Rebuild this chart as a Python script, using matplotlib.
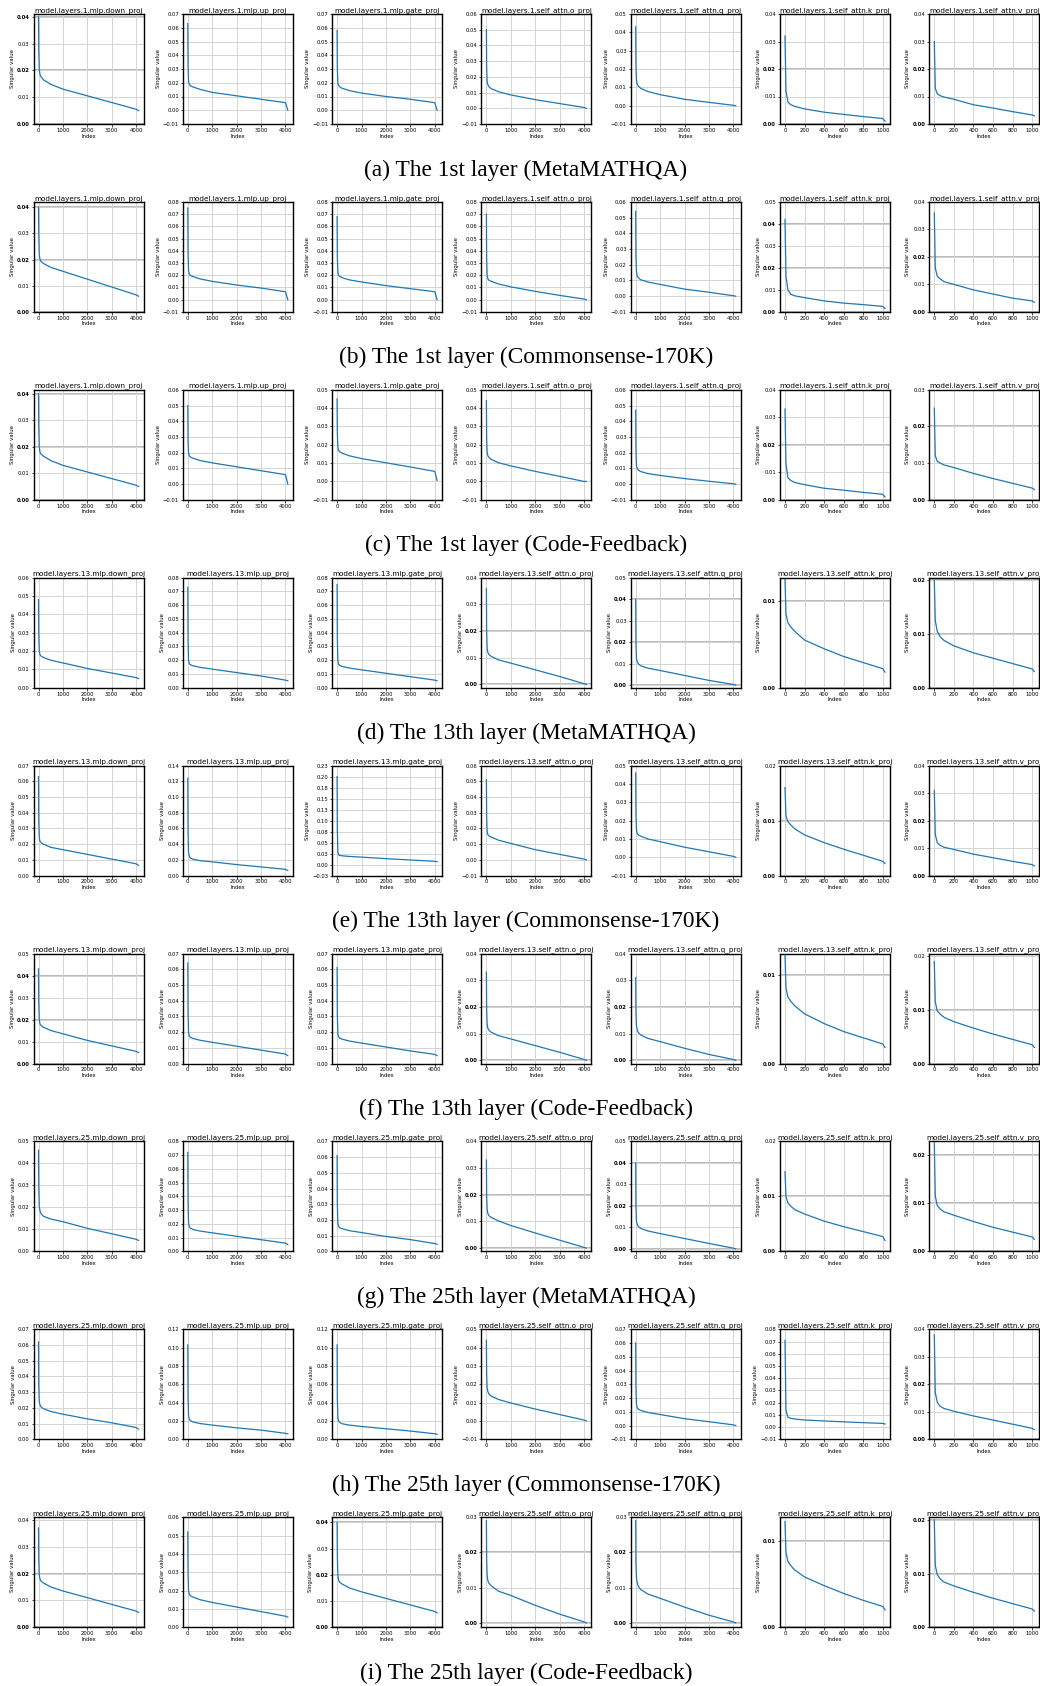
import math
import matplotlib
matplotlib.use('Agg')
import matplotlib.pyplot as plt

W, H = 1040, 1686

modules = ['mlp.down_proj', 'mlp.up_proj', 'mlp.gate_proj', 'self_attn.o_proj',
           'self_attn.q_proj', 'self_attn.k_proj', 'self_attn.v_proj']
row_layers = [1, 1, 1, 13, 13, 13, 25, 25, 25]
captions = ['(a) The 1st layer (MetaMATHQA)', '(b) The 1st layer (Commonsense-170K)',
            '(c) The 1st layer (Code-Feedback)', '(d) The 13th layer (MetaMATHQA)',
            '(e) The 13th layer (Commonsense-170K)', '(f) The 13th layer (Code-Feedback)',
            '(g) The 25th layer (MetaMATHQA)', '(h) The 25th layer (Commonsense-170K)',
            '(i) The 25th layer (Code-Feedback)']

# index positions where the curves were read (first 5 modules: 4096 values, k/v: 1024)
x_big = [0, 10, 30, 60, 100, 200, 500, 1000, 2000, 3000, 4000, 4095]
x_small = [0, 10, 30, 60, 100, 200, 400, 600, 800, 1000, 1023]

# singular values, one list per module
vals_a = [[0.040, 0.028, 0.0205, 0.0185, 0.0177, 0.0165, 0.0148, 0.013, 0.0105, 0.008, 0.0055, 0.005],
          [0.063, 0.032, 0.021, 0.019, 0.018, 0.017, 0.0152, 0.013, 0.0105, 0.008, 0.0055, 0.0],
          [0.058, 0.030, 0.020, 0.018, 0.0172, 0.016, 0.0143, 0.0125, 0.010, 0.008, 0.0055, 0.0],
          [0.050, 0.026, 0.017, 0.015, 0.0138, 0.0125, 0.0105, 0.0085, 0.0055, 0.003, 0.0005, 0.0],
          [0.043, 0.022, 0.014, 0.012, 0.0108, 0.0095, 0.0077, 0.006, 0.0035, 0.0018, 0.0002, 0.0],
          [0.032, 0.012, 0.008, 0.007, 0.0064, 0.0055, 0.0043, 0.0035, 0.0027, 0.002, 0.001],
          [0.030, 0.013, 0.011, 0.0103, 0.0098, 0.009, 0.007, 0.0058, 0.0045, 0.0033, 0.003]]
vals_b = [[0.040, 0.030, 0.022, 0.020, 0.0193, 0.0185, 0.017, 0.0155, 0.0125, 0.0095, 0.0065, 0.006],
          [0.075, 0.038, 0.024, 0.021, 0.020, 0.019, 0.017, 0.015, 0.012, 0.0095, 0.0065, 0.0],
          [0.068, 0.035, 0.023, 0.020, 0.019, 0.018, 0.0162, 0.0145, 0.0115, 0.009, 0.0065, 0.0],
          [0.070, 0.034, 0.020, 0.017, 0.016, 0.015, 0.0128, 0.0105, 0.0068, 0.0035, 0.0005, 0.0],
          [0.054, 0.026, 0.016, 0.013, 0.0118, 0.0105, 0.009, 0.0075, 0.0045, 0.0025, 0.0003, 0.0],
          [0.042, 0.016, 0.010, 0.008, 0.0073, 0.0065, 0.005, 0.004, 0.0033, 0.0025, 0.0015],
          [0.036, 0.016, 0.013, 0.012, 0.011, 0.010, 0.008, 0.0065, 0.005, 0.004, 0.0035]]
vals_c = [[0.040, 0.028, 0.020, 0.018, 0.0173, 0.0165, 0.0148, 0.013, 0.0105, 0.008, 0.0055, 0.005],
          [0.050, 0.028, 0.020, 0.018, 0.0173, 0.0165, 0.015, 0.0135, 0.011, 0.0085, 0.006, 0.0],
          [0.045, 0.026, 0.019, 0.017, 0.0163, 0.0155, 0.014, 0.0125, 0.0102, 0.0079, 0.0055, 0.0005],
          [0.044, 0.024, 0.016, 0.014, 0.0132, 0.012, 0.0102, 0.0085, 0.0055, 0.0028, 0.0, 0.0],
          [0.047, 0.022, 0.012, 0.010, 0.009, 0.008, 0.0067, 0.0055, 0.0035, 0.0018, 0.0002, 0.0],
          [0.033, 0.013, 0.008, 0.007, 0.0063, 0.0055, 0.0042, 0.0035, 0.0027, 0.002, 0.001],
          [0.025, 0.012, 0.0105, 0.010, 0.0095, 0.0088, 0.0072, 0.0058, 0.0045, 0.0032, 0.0028]]
vals_d = [[0.048, 0.030, 0.020, 0.018, 0.0173, 0.0165, 0.015, 0.0135, 0.0105, 0.008, 0.0055, 0.005],
          [0.073, 0.036, 0.020, 0.0175, 0.0168, 0.016, 0.0148, 0.0135, 0.011, 0.0085, 0.0055, 0.005],
          [0.075, 0.036, 0.020, 0.017, 0.0163, 0.0155, 0.0143, 0.013, 0.0105, 0.008, 0.0055, 0.005],
          [0.036, 0.020, 0.0135, 0.012, 0.0113, 0.0105, 0.0092, 0.008, 0.0055, 0.003, 0.0003, 0.0],
          [0.040, 0.020, 0.0125, 0.011, 0.010, 0.009, 0.0079, 0.0068, 0.0045, 0.0022, 0.0003, 0.0],
          [0.0125, 0.0085, 0.0075, 0.007, 0.0065, 0.0055, 0.0045, 0.0036, 0.0029, 0.0022, 0.0018],
          [0.020, 0.0125, 0.0105, 0.0095, 0.0088, 0.0078, 0.0065, 0.0055, 0.0045, 0.0035, 0.003]]
vals_e = [[0.063, 0.036, 0.024, 0.022, 0.021, 0.020, 0.018, 0.0165, 0.0135, 0.0105, 0.0075, 0.0065],
          [0.124, 0.055, 0.030, 0.025, 0.0225, 0.021, 0.019, 0.0175, 0.014, 0.011, 0.008, 0.0065],
          [0.200, 0.080, 0.030, 0.022, 0.021, 0.020, 0.0185, 0.017, 0.0135, 0.0105, 0.0075, 0.0065],
          [0.051, 0.028, 0.018, 0.016, 0.0153, 0.0145, 0.0125, 0.0105, 0.0065, 0.0035, 0.0005, 0.0],
          [0.046, 0.024, 0.015, 0.013, 0.0123, 0.0115, 0.010, 0.0085, 0.0055, 0.003, 0.0005, 0.0],
          [0.016, 0.0108, 0.0098, 0.0092, 0.0085, 0.0074, 0.006, 0.0048, 0.0037, 0.0026, 0.0022],
          [0.031, 0.015, 0.012, 0.011, 0.0103, 0.0095, 0.0078, 0.0065, 0.0052, 0.004, 0.0035]]
vals_f = [[0.043, 0.028, 0.020, 0.018, 0.0173, 0.0165, 0.015, 0.0135, 0.0105, 0.008, 0.0055, 0.005],
          [0.064, 0.032, 0.020, 0.0175, 0.0168, 0.016, 0.0148, 0.0135, 0.011, 0.0085, 0.006, 0.005],
          [0.061, 0.031, 0.019, 0.017, 0.0163, 0.0155, 0.0143, 0.013, 0.0105, 0.008, 0.0058, 0.005],
          [0.033, 0.019, 0.0135, 0.012, 0.0113, 0.0105, 0.0092, 0.008, 0.0055, 0.003, 0.0003, 0.0],
          [0.031, 0.018, 0.013, 0.0115, 0.0105, 0.0095, 0.0082, 0.007, 0.0045, 0.0022, 0.0003, 0.0],
          [0.0122, 0.0085, 0.0075, 0.007, 0.0065, 0.0056, 0.0045, 0.0036, 0.0029, 0.0022, 0.0018],
          [0.019, 0.0115, 0.0098, 0.0092, 0.0086, 0.0078, 0.0066, 0.0055, 0.0045, 0.0035, 0.003]]
vals_g = [[0.046, 0.030, 0.0205, 0.0185, 0.0172, 0.016, 0.0147, 0.0135, 0.0105, 0.008, 0.0055, 0.005],
          [0.072, 0.036, 0.021, 0.018, 0.017, 0.016, 0.0148, 0.0135, 0.011, 0.0085, 0.006, 0.005],
          [0.061, 0.030, 0.018, 0.016, 0.0152, 0.0145, 0.0132, 0.012, 0.0095, 0.0075, 0.005, 0.0045],
          [0.033, 0.020, 0.0145, 0.013, 0.0122, 0.0115, 0.0102, 0.0085, 0.0057, 0.003, 0.0003, 0.0],
          [0.040, 0.020, 0.013, 0.0115, 0.0105, 0.0095, 0.0083, 0.0071, 0.0048, 0.0025, 0.0003, 0.0],
          [0.0145, 0.010, 0.0088, 0.0082, 0.0076, 0.0068, 0.0055, 0.0045, 0.0036, 0.0027, 0.002],
          [0.0225, 0.0115, 0.0095, 0.0088, 0.0082, 0.0075, 0.0062, 0.005, 0.004, 0.003, 0.0025]]
vals_h = [[0.062, 0.035, 0.024, 0.022, 0.0207, 0.0195, 0.0177, 0.016, 0.013, 0.0105, 0.0075, 0.0065],
          [0.103, 0.045, 0.026, 0.022, 0.0205, 0.019, 0.0172, 0.0155, 0.0125, 0.010, 0.0065, 0.006],
          [0.103, 0.045, 0.024, 0.020, 0.0185, 0.017, 0.0155, 0.014, 0.0115, 0.009, 0.006, 0.0055],
          [0.044, 0.026, 0.018, 0.016, 0.0148, 0.0135, 0.0117, 0.0098, 0.0065, 0.0035, 0.0005, 0.0],
          [0.060, 0.028, 0.016, 0.013, 0.012, 0.011, 0.0095, 0.008, 0.005, 0.0028, 0.0005, 0.0],
          [0.071, 0.014, 0.008, 0.0072, 0.0066, 0.0058, 0.005, 0.0043, 0.0036, 0.003, 0.0025],
          [0.038, 0.017, 0.0135, 0.012, 0.0112, 0.0102, 0.0085, 0.007, 0.0055, 0.004, 0.0035]]
vals_i = [[0.037, 0.026, 0.0195, 0.018, 0.0172, 0.0165, 0.015, 0.0135, 0.011, 0.0085, 0.006, 0.0055],
          [0.052, 0.029, 0.020, 0.018, 0.0172, 0.0165, 0.015, 0.0135, 0.011, 0.0085, 0.006, 0.0055],
          [0.040, 0.027, 0.020, 0.018, 0.0172, 0.0165, 0.015, 0.0135, 0.011, 0.0085, 0.006, 0.0055],
          [0.029, 0.018, 0.0135, 0.012, 0.0113, 0.0105, 0.009, 0.0078, 0.005, 0.0025, 0.0003, 0.0],
          [0.029, 0.017, 0.013, 0.0115, 0.0105, 0.0095, 0.0082, 0.007, 0.0045, 0.0022, 0.0003, 0.0],
          [0.0122, 0.0086, 0.0076, 0.0071, 0.0066, 0.0058, 0.0048, 0.0039, 0.0031, 0.0024, 0.002],
          [0.020, 0.0115, 0.0098, 0.009, 0.0084, 0.0077, 0.0065, 0.0054, 0.0044, 0.0034, 0.003]]

# y axis per panel: (ymin, ymax, tick step, step of the dark/bold ticks or None)
yax_a = [(0, 0.041, 0.01, 0.02), (-0.01, 0.07, 0.01, None), (-0.01, 0.07, 0.01, None),
         (-0.01, 0.06, 0.01, None), (-0.01, 0.05, 0.01, None), (0, 0.04, 0.01, 0.02),
         (0, 0.04, 0.01, 0.02)]
yax_b = [(0, 0.042, 0.01, 0.02), (-0.01, 0.08, 0.01, None), (-0.01, 0.08, 0.01, None),
         (-0.01, 0.08, 0.01, None), (-0.01, 0.06, 0.01, None), (0, 0.05, 0.01, 0.02),
         (0, 0.04, 0.01, 0.02)]
yax_c = [(0, 0.0415, 0.01, 0.02), (-0.01, 0.06, 0.01, None), (-0.01, 0.05, 0.01, None),
         (-0.01, 0.05, 0.01, None), (-0.01, 0.06, 0.01, None), (0, 0.04, 0.01, 0.02),
         (0, 0.03, 0.01, 0.02)]
yax_d = [(0, 0.06, 0.01, None), (0, 0.08, 0.01, None), (0, 0.08, 0.01, None),
         (-0.0012, 0.04, 0.01, 0.02), (-0.0012, 0.05, 0.01, 0.02), (0, 0.0127, 0.01, 0.01),
         (0, 0.0205, 0.01, 0.01)]
yax_e = [(0, 0.07, 0.01, None), (0, 0.14, 0.02, None), (-0.025, 0.225, 0.025, None),
         (-0.01, 0.06, 0.01, None), (-0.01, 0.05, 0.01, None), (0, 0.02, 0.01, 0.01),
         (0, 0.04, 0.01, 0.02)]
yax_f = [(0, 0.05, 0.01, 0.02), (0, 0.07, 0.01, None), (0, 0.07, 0.01, None),
         (-0.0012, 0.04, 0.01, 0.02), (-0.0012, 0.04, 0.01, 0.02), (0, 0.0124, 0.01, 0.01),
         (0, 0.0205, 0.01, 0.01)]
yax_g = [(0, 0.05, 0.01, None), (0, 0.08, 0.01, None), (0, 0.07, 0.01, None),
         (-0.0012, 0.04, 0.01, 0.02), (-0.0012, 0.05, 0.01, 0.02), (0, 0.02, 0.01, 0.01),
         (0, 0.0228, 0.01, 0.01)]
yax_h = [(0, 0.07, 0.01, None), (0, 0.12, 0.02, None), (0, 0.12, 0.02, None),
         (-0.01, 0.05, 0.01, None), (-0.01, 0.07, 0.01, None), (-0.01, 0.08, 0.01, None),
         (0, 0.04, 0.01, 0.02)]
yax_i = [(0, 0.041, 0.01, 0.02), (0, 0.06, 0.01, None), (0, 0.042, 0.01, 0.02),
         (-0.0012, 0.03, 0.01, 0.02), (-0.0012, 0.03, 0.01, 0.02), (0, 0.0127, 0.01, 0.01),
         (0, 0.0205, 0.01, 0.01)]

rows = [(vals_a, yax_a), (vals_b, yax_b), (vals_c, yax_c), (vals_d, yax_d), (vals_e, yax_e),
        (vals_f, yax_f), (vals_g, yax_g), (vals_h, yax_h), (vals_i, yax_i)]

ROW_PITCH = 187.9
AX_W, AX_H = 110, 110


def fmt(v):
    return ('%.2f' % v).replace('-', '\u2212')


fig = plt.figure(figsize=(W / 100, H / 100), dpi=100)

for r, (vals, yaxes) in enumerate(rows):
    row_top = 1 + ROW_PITCH * r
    for c in range(7):
        left = 33.5 + 149.3 * c
        top = row_top + 13
        ax = fig.add_axes([left / W, 1 - (top + AX_H) / H, AX_W / W, AX_H / H])
        xs = x_small if c >= 5 else x_big
        ys = vals[c]
        ax.plot(xs, ys, color='#1f77b4', lw=0.9, zorder=3)

        ymin, ymax, step, bold = yaxes[c]
        ax.set_ylim(ymin, ymax)
        start = math.ceil(ymin / step - 1e-9) * step + 0.0
        ticks = []
        i = 0
        while start + i * step <= ymax + 1e-9:
            ticks.append(start + i * step)
            i += 1
        ax.set_yticks(ticks, labels=[fmt(t) for t in ticks])
        if c >= 5:
            ax.set_xticks([0, 200, 400, 600, 800, 1000])
        else:
            ax.set_xticks([0, 1000, 2000, 3000, 4000])

        ax.grid(True, color='#d4d4d4', lw=0.7, zorder=0)
        peak = max(ys)
        for t, lab in zip(ticks, ax.get_yticklabels()):
            if bold and abs(t / bold - round(t / bold)) < 1e-6 and t <= peak * 1.03:
                lab.set_fontweight('bold')
                ax.axhline(t, color='#a8a8a8', lw=1.1, zorder=1)

        ax.tick_params(axis='both', labelsize=3.8, length=1.8, width=0.5, pad=1)
        for sp in ax.spines.values():
            sp.set_linewidth(1.0)
        ax.set_title('model.layers.%d.%s' % (row_layers[r], modules[c]), fontsize=5.2, pad=1.5)
        ax.set_xlabel('Index', fontsize=3.9, labelpad=0.5)
        ax.set_ylabel('Singular value', fontsize=3.9, labelpad=1.5)

    fig.text(526 / W, 1 - (row_top + 169) / H, captions[r], ha='center', va='center',
             fontsize=16.8, family='Liberation Serif')

fig.savefig('out.png', dpi=100)
